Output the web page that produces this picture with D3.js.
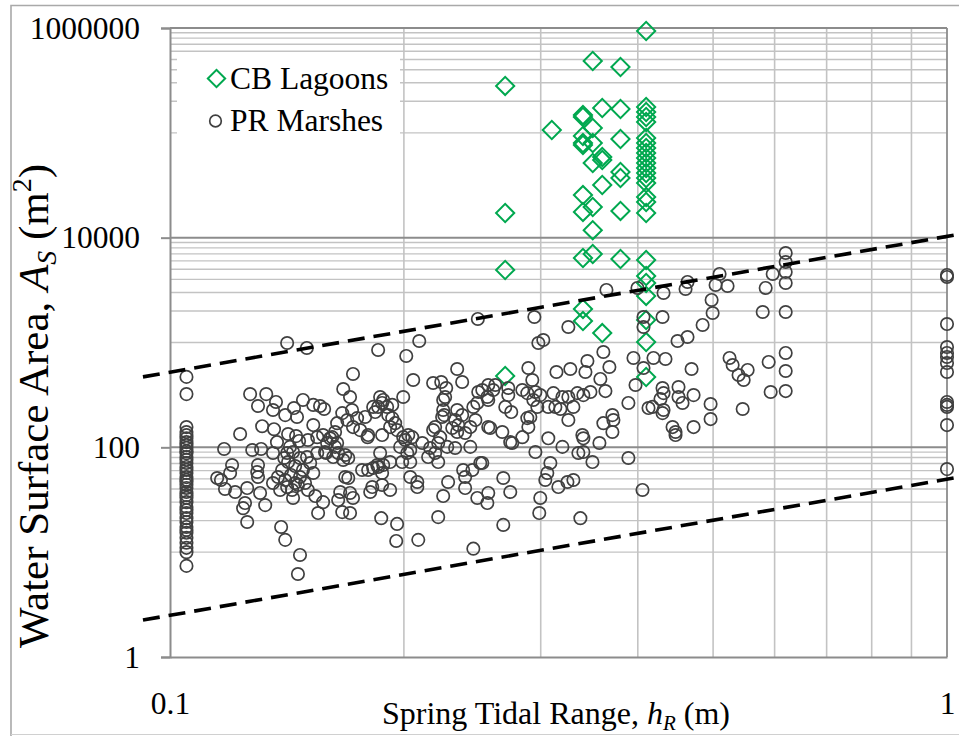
<!DOCTYPE html>
<html><head><meta charset="utf-8">
<script src="https://cdn.jsdelivr.net/npm/d3@7"></script>
<style>
body{margin:0;background:#fff}
svg{display:block}
svg text{font-family:"Liberation Serif","Times New Roman",serif !important;fill:#000}
</style>
</head><body>
<svg id="chart" width="959" height="736"></svg>
<script>
// ---------- data ----------
const xTickValues = [0.1, 1];
const xMinorValues = [0.2, 0.3, 0.4, 0.5, 0.6, 0.7, 0.8, 0.9];
const yTickValues = [1, 100, 10000, 1000000];
const yMinorValues = [10, 20, 30, 40, 50, 60, 70, 80, 90,
  1000, 2000, 3000, 4000, 5000, 6000, 7000, 8000, 9000,
  100000, 200000, 300000, 400000, 500000, 600000, 700000, 800000, 900000];

const seriesNames = ["CB Lagoons", "PR Marshes"];

// CB Lagoons: [hR (m), As (m2)]
const cbLagoons = [
  [0.27,280000],[0.27,17200],[0.27,4920],[0.27,480],
  [0.31,106400],
  [0.34,148000],[0.34,141600],[0.34,93300],[0.34,80000],[0.34,76600],[0.34,25500],[0.34,17600],[0.34,6400],[0.34,2090],[0.34,1600],
  [0.35,484000],[0.35,111200],[0.35,80000],[0.35,51600],[0.35,19600],[0.35,11800],[0.35,6980],
  [0.36,172600],[0.36,58900],[0.36,55100],[0.36,31800],[0.36,1230],
  [0.38,425000],[0.38,168800],[0.38,87400],[0.38,42300],[0.38,37100],[0.38,18000],[0.38,6260],
  [0.41,937000],[0.41,176500],[0.41,158000],[0.41,141600],[0.41,127000],[0.41,89300],[0.41,80000],[0.41,71700],
  [0.41,64300],[0.41,57600],[0.41,51600],[0.41,46200],[0.41,41400],[0.41,37100],[0.41,33200],[0.41,24400],
  [0.41,21900],[0.41,17200],[0.41,6120],[0.41,4310],[0.41,3700],[0.41,2780],[0.41,1640],[0.41,1010],[0.41,469]
];

// PR Marshes: [hR (m), As (m2)]
const prMarshesLow = [
  [0.105,470],[0.105,322],[0.105,156],[0.105,140],[0.105,131],[0.105,122],[0.105,112],[0.105,105],[0.105,99],
  [0.105,92],[0.105,88],[0.105,81],[0.105,76],[0.105,71],[0.105,65],[0.105,61],[0.105,57],[0.105,52],[0.105,49],
  [0.105,47],[0.105,44],[0.105,41],[0.105,37.5],[0.105,35],[0.105,33],[0.105,30],[0.105,27],[0.105,25.2],
  [0.105,23.6],[0.105,21.1],[0.105,19.4],[0.105,17.4],[0.105,16.3],[0.105,15.3],[0.105,13.7],[0.105,12.3],
  [0.105,11],[0.105,10],[0.105,7.4],
  [0.1415,989],[0.150,887],[0.1268,322],[0.1330,322],[0.1298,248],[0.1369,271],[0.1357,227],[0.1407,203],
  [0.1444,237],[0.1483,283],[0.1529,254],[0.1560,248],[0.1579,232],[0.1457,195],[0.1314,159],[0.1361,149],
  [0.1231,134],[0.1419,134],[0.1453,128],[0.1529,163],[0.1547,125],[0.1174,96.5],[0.1276,94.3],[0.1310,96.5],
  [0.1373,112],[0.1466,115],[0.1427,101],[0.1505,117.5],[0.1574,131],[0.1607,122],[0.1357,88.3],[0.1415,88.3],
  [0.1440,90.2],[0.1470,79.1],[0.1501,80.8],[0.1547,88.3],[0.1583,90.2],[0.1202,67.8],[0.1195,56.9],[0.1150,51.0],
  [0.1163,48.8],[0.1177,40.1],[0.1213,37.5],[0.1257,40.9],[0.1298,67.8],[0.1295,58.2],[0.1298,52.1],[0.1306,36.7],
  [0.1249,29.4],[0.1242,26.3],[0.1257,19.4],[0.1326,28.1],[0.1357,45.7],[0.1377,52.1],[0.1386,39.2],[0.1407,48.8],
  [0.1394,60.8],[0.1415,41.8],[0.1436,39.2],[0.1449,45.7],[0.1470,52.1],[0.1483,60.8],[0.1492,45.7],[0.1505,39.2],
  [0.1529,56.9],[0.1538,34.3],[0.1574,30.0],[0.1551,23.6],[0.1440,32.9],[0.1390,17.4],[0.1407,13.1],[0.1470,9.41],
  [0.1461,6.19],[0.1515,70.9],[0.1419,72.4],[0.1449,66.3],[0.1431,54.5],[0.1403,79.1],[0.1461,43.7]
];
const prMarshesMid = [
  [0.249,1677],[0.2093,1034],[0.1853,849],[0.2014,744],[0.1720,501],[0.2056,439],[0.2342,559],[0.2377,420],
  [0.2181,411],[0.2234,420],[0.2267,368],[0.2247,283],[0.2260,302],[0.1671,360],[0.1705,302],[0.1996,302],
  [0.1864,302],[0.1881,283],[0.1875,265],[0.1853,243],[0.1903,243],[0.1932,254],[0.1826,243],[0.1837,217],
  [0.1715,227],[0.1666,212],[0.1691,182],[0.1741,190],[0.1720,156],[0.1783,195],[0.1757,146],[0.1799,131],
  [0.1796,125],[0.1875,131],[0.1909,203],[0.1932,190],[0.1949,170],[0.1920,156],[0.1960,146],[0.1996,125],
  [0.2026,131],[0.2050,125],[0.2008,117.5],[0.2112,110],[0.1978,101],[0.2194,156],[0.2181,146],[0.2247,227],
  [0.2254,203],[0.2240,195],[0.2342,227],[0.2377,203],[0.2328,182],[0.2349,163],[0.2308,153],[0.2342,140],
  [0.2398,137],[0.2435,156],[0.2472,182],[0.2486,265],[0.2457,243],[0.2493,337],[0.2328,98.6],[0.2435,101],
  [0.2214,110],[0.2162,98.6],[0.2149,80.8],[0.2214,72.4],[0.2194,88.3],[0.2274,101],[0.2038,94.3],[0.1990,72.4],
  [0.2038,72.4],[0.2020,88.3],[0.1920,72.4],[0.1881,67.8],[0.1864,88.3],[0.1848,67.8],[0.1875,56.9],[0.1826,63.5],
  [0.1799,60.8],[0.1767,60.8],[0.2038,52.1],[0.2081,46.7],[0.2081,41.8],[0.2280,46.7],[0.2384,60.8],[0.2450,60.8],
  [0.2508,70.9],[0.2398,52.1],[0.2398,40.9],[0.2247,34.3],[0.2486,32.9],[0.2214,21.6],[0.2457,10.8],[0.2087,13.1],
  [0.1955,12.8],[0.1960,18.6],[0.1870,21.1],[0.1920,39.2],[0.1875,43.7],[0.1810,37.5],[0.1821,41.8],[0.1720,32.9],
  [0.1705,36.7],[0.1656,37.5],[0.1646,31.4],[0.1666,24.1],[0.1705,23.6],[0.1681,52.1],[0.1696,51.0],[0.1593,110],
  [0.1617,125],[0.1631,101],[0.1646,88.3],[0.1588,88.3],[0.1622,80.8],[0.1681,84.5],[0.1696,79.1],[0.1671,75.7],
  [0.1641,170],[0.1631,140],[0.1641,110],[0.1853,64.9],[0.2227,125]
];
const prMarshesHigh = [
  [0.2944,1751],[0.3256,1406],[0.2979,989],[0.3023,1057],[0.3612,812],[0.3949,712],[0.2892,571],[0.2926,439],
  [0.3143,523],[0.3275,559],[0.3425,523],[0.3445,666],[0.3677,584],[0.3580,449],[0.3973,393],[0.2622,393],
  [0.2606,352],[0.2725,368],[0.2523,352],[0.2568,283],[0.2725,315],[0.2841,352],[0.2883,329],[0.2953,337],
  [0.2996,315],[0.2935,283],[0.2970,243],[0.3115,329],[0.3199,302],[0.3256,302],[0.3344,329],[0.3404,315],
  [0.3476,337],[0.3634,344],[0.3068,243],[0.3133,243],[0.3180,232],[0.3305,243],[0.3256,182],[0.3890,265],
  [0.2701,243],[0.2749,217],[0.2883,190],[0.2909,195],[0.2892,156],[0.2841,125],[0.2583,153],[0.2677,140],
  [0.2741,112],[0.2757,110],[0.3612,170],[0.3710,203],[0.3721,182],[0.3710,140],[0.3068,122],[0.3199,101],
  [0.2953,90.2],[0.3394,131],[0.3404,122],[0.3354,88.3],[0.3404,90.2],[0.3497,72.4],[0.3570,110],[0.3890,79.1],
  [0.2523,70.9],[0.3087,70.9],[0.3059,56.9],[0.3041,48.8],[0.3161,41.8],[0.3247,46.7],[0.3305,48.8],[0.2685,51.0],
  [0.2741,37.5],[0.2568,36.7],[0.2561,29.4],[0.2996,32.9],[0.2987,23.6],[0.2685,18.2],[0.3374,21.1],[0.4056,39.2],
  [0.2568,393],[0.2561,302],[0.2568,156],[0.3645,3170],[0.3996,3314],[0.4068,1751],[0.4068,1406],[0.4068,571],
  [0.4317,2967],[0.4635,3780],[0.4608,3243],[0.5097,4507],[0.5037,3539],[0.5219,3460],[0.5966,4507],[0.5843,3314],
  [0.4978,2545],[0.4993,1912],[0.5792,1955],[0.4304,1751],[0.4847,1470],[0.4500,1034],[0.4635,1129],[0.4190,712],
  [0.4342,697],[0.4691,559],[0.5250,712],[0.5298,610],[0.5392,490],[0.5474,439],[0.5539,547],[0.5895,652],
  [0.5930,337],[0.4304,368],[0.4317,329],[0.4278,289],[0.4178,243],[0.4304,212],[0.4317,227],[0.4513,376],
  [0.4513,302],[0.4567,265],[0.4719,315],[0.4963,259],[0.4963,186],[0.5458,232],[0.4434,156],[0.4473,140],
  [0.4473,131],[0.4719,156],[0.4129,237],
  [0.62,7140],[0.62,5860],[0.62,4710],[0.62,3700],[0.62,1955],[0.62,795],[0.62,535],[0.62,344],
  [1,4410],[1,4220],[1,1500],[1,905],[1,795],[1,728],[1,637],[1,523],[1,271],[1,254],[1,243],[1,163],[1,62]
];
const prMarshes = prMarshesLow.concat(prMarshesMid, prMarshesHigh);

// Envelope lines (dashed): [hR, As] end points
const upperEnvelope = [[0.0923, 470], [1.036, 10770]];
const lowerEnvelope = [[0.0923, 2.25], [1.036, 52]];

// ---------- drawing ----------
const FONT = "'Liberation Serif', 'Times New Roman', serif";
const svg = d3.select("#chart");
const x = d3.scaleLog().domain([0.1, 1]).range([170, 947]);
const y = d3.scaleLog().domain([1, 1e6]).range([657, 28]);
const [x0, x1] = x.range();
const [y0, y1] = y.range();

const gridMinor = "#c3c3c3", gridMajor = "#8c8c8c";
const green = "#00A84F", dark = "#404040";

// chart frame
svg.append("path")
  .attr("d", "M11,736 L11,5.5 L959,5.5")
  .attr("fill", "none").attr("stroke", "#a9a9a9").attr("stroke-width", 1.6);
svg.append("line").attr("x1", 11).attr("x2", 959).attr("y1", 734.5).attr("y2", 734.5)
  .attr("stroke", "#d0d0d0").attr("stroke-width", 1.2);

// grid
const grid = svg.append("g");
grid.selectAll(".hmin").data(yMinorValues).join("line")
  .attr("x1", x0).attr("x2", x1).attr("y1", d => y(d)).attr("y2", d => y(d))
  .attr("stroke", gridMinor).attr("stroke-width", 1.4);
grid.selectAll(".vmin").data(xMinorValues).join("line")
  .attr("y1", y1).attr("y2", y0).attr("x1", d => x(d)).attr("x2", d => x(d))
  .attr("stroke", gridMinor).attr("stroke-width", 1.6);
grid.selectAll(".hmaj").data(yTickValues.slice(1)).join("line")
  .attr("x1", x0).attr("x2", x1).attr("y1", d => y(d)).attr("y2", d => y(d))
  .attr("stroke", gridMajor).attr("stroke-width", 2);
grid.selectAll(".vmaj").data(xTickValues.slice(1)).join("line")
  .attr("y1", y1).attr("y2", y0).attr("x1", d => x(d)).attr("x2", d => x(d))
  .attr("stroke", gridMajor).attr("stroke-width", 1.8);

// axes
const yAxis = d3.axisLeft(y).tickValues(yTickValues).tickFormat(d3.format("d")).tickSize(9).tickPadding(21);
const gy = svg.append("g").attr("transform", `translate(${x0},0)`).call(yAxis).attr("font-family", FONT);
gy.select(".domain").attr("stroke", gridMajor).attr("stroke-width", 2);
gy.selectAll(".tick line").attr("stroke", gridMajor).attr("stroke-width", 2);
gy.selectAll(".tick text").style("font-size", "31.5px").style("font-family", FONT).attr("fill", "#000");

const xAxis = d3.axisBottom(x).tickValues(xTickValues).tickFormat(d3.format("")).tickSize(0).tickPadding(35);
const gx = svg.append("g").attr("transform", `translate(0,${y0})`).call(xAxis).attr("font-family", FONT);
gx.select(".domain").attr("stroke", gridMajor).attr("stroke-width", 2);
gx.selectAll(".tick text").style("font-size", "31.5px").style("font-family", FONT).attr("fill", "#000");

// legend box (covers gridlines)
const legend = svg.append("g");
legend.append("rect").attr("x", 177).attr("y", 55).attr("width", 223).attr("height", 90).attr("fill", "#fff");

// CB Lagoons diamonds
const diamond = d3.symbol().type(d3.symbolSquare).size(165);
svg.append("g").selectAll("path").data(cbLagoons).join("path")
  .attr("d", diamond)
  .attr("transform", d => `translate(${x(d[0])},${y(d[1])}) rotate(45)`)
  .attr("fill", "none").attr("stroke", green).attr("stroke-width", 2);

// PR Marshes circles
svg.append("g").selectAll("circle").data(prMarshes).join("circle")
  .attr("cx", d => x(d[0])).attr("cy", d => y(d[1])).attr("r", 6.2)
  .attr("fill", "none").attr("stroke", dark).attr("stroke-width", 1.7);

// dashed envelope lines
const line = d3.line().x(d => x(d[0])).y(d => y(d[1]));
[upperEnvelope, lowerEnvelope].forEach(l => {
  svg.append("path").attr("d", line(l)).attr("fill", "none")
    .attr("stroke", "#000").attr("stroke-width", 3.6).attr("stroke-dasharray", "17,9");
});

// legend items
legend.append("path").attr("d", d3.symbol().type(d3.symbolSquare).size(150)())
  .attr("transform", "translate(216.5,78.5) rotate(45)")
  .attr("fill", "none").attr("stroke", green).attr("stroke-width", 2);
legend.append("text").attr("x", 230).attr("y", 89).style("font-size", "31.5px").style("font-family", FONT).text(seriesNames[0]);
legend.append("circle").attr("cx", 215.5).attr("cy", 121).attr("r", 5.8)
  .attr("fill", "none").attr("stroke", dark).attr("stroke-width", 1.7);
legend.append("text").attr("x", 230).attr("y", 131).style("font-size", "31.5px").style("font-family", FONT).text(seriesNames[1]);

// axis titles
const xt = svg.append("text").attr("x", 556).attr("y", 724).attr("text-anchor", "middle")
  .style("font-size", "32px").style("font-family", FONT);
xt.append("tspan").text("Spring Tidal Range, ");
xt.append("tspan").style("font-style", "italic").text("h");
xt.append("tspan").style("font-style", "italic").style("font-size", "21px").attr("dy", 6).text("R");
xt.append("tspan").attr("dy", -6).text(" (m)");

const yt = svg.append("text").attr("transform", "translate(48,406) rotate(-90)")
  .attr("text-anchor", "middle").style("font-size", "43px").style("font-family", FONT);
yt.append("tspan").text("Water Surface Area, ");
yt.append("tspan").style("font-style", "italic").text("A");
yt.append("tspan").style("font-style", "italic").style("font-size", "28px").attr("dy", 8).text("S");
yt.append("tspan").attr("dy", -8).text(" (m");
yt.append("tspan").style("font-size", "28px").attr("dy", -17).text("2");
yt.append("tspan").attr("dy", 17).text(")");
</script>
</body></html>
